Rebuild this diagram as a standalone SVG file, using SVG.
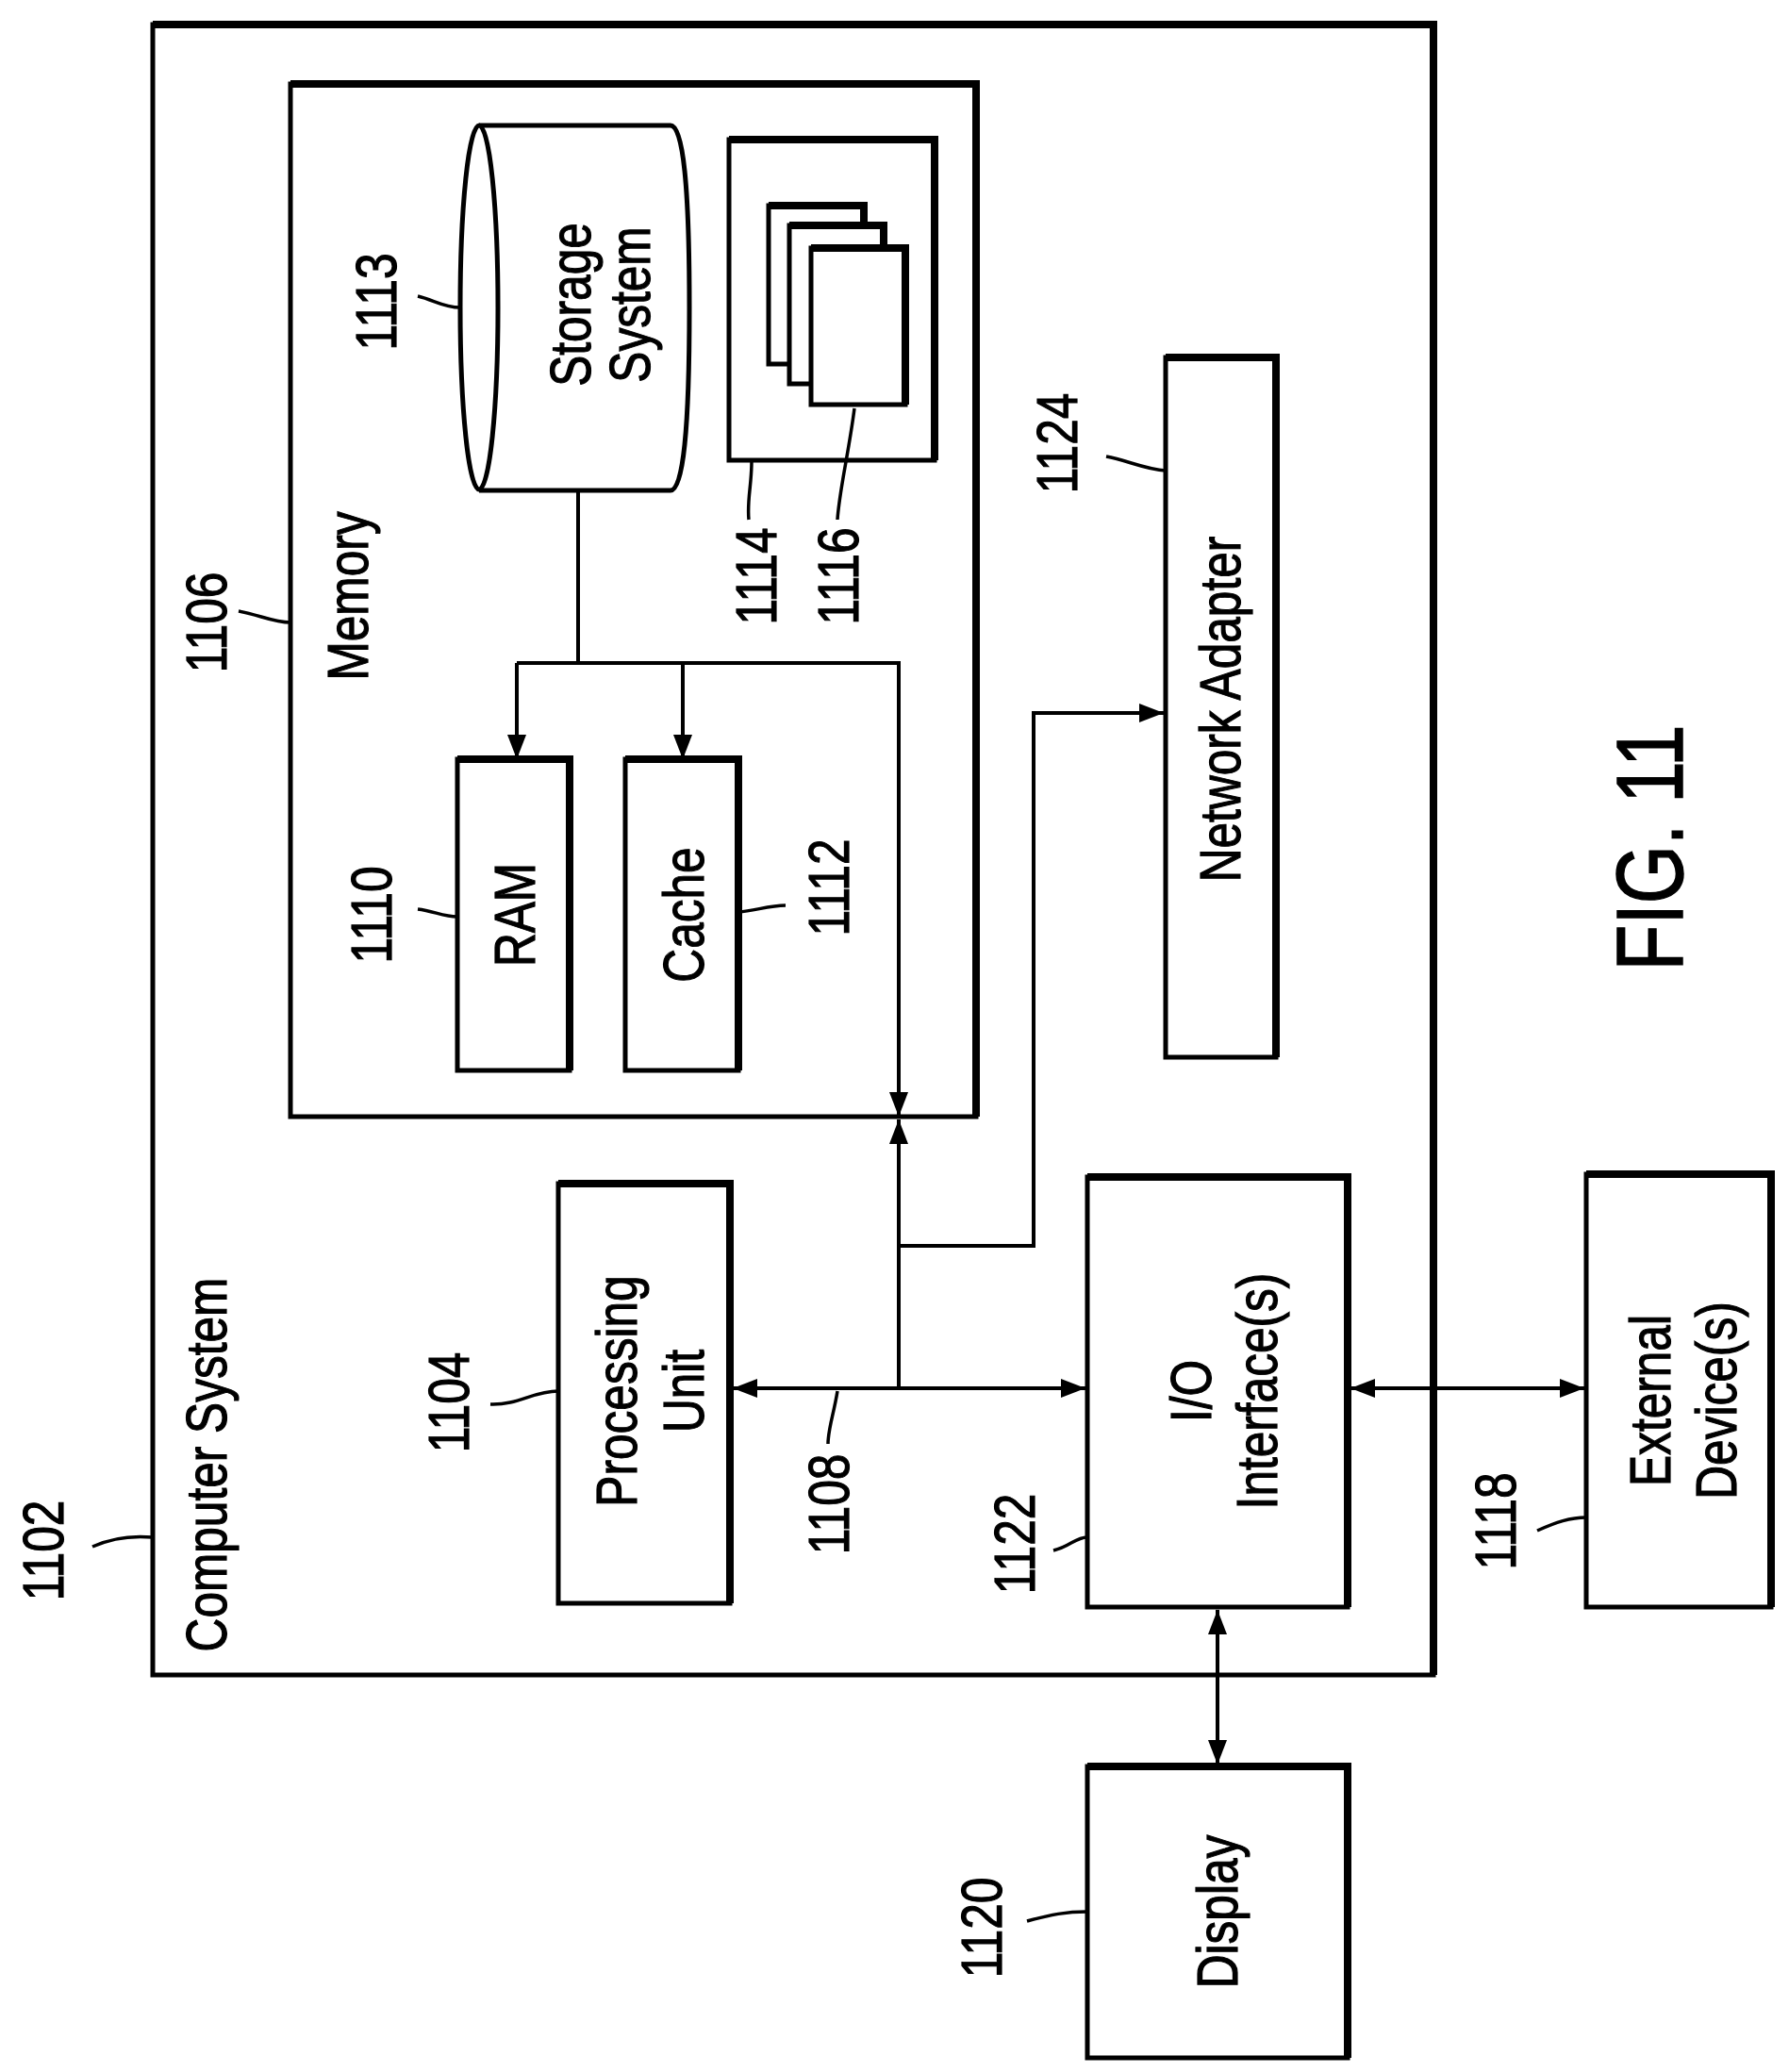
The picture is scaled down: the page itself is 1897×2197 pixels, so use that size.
<svg xmlns="http://www.w3.org/2000/svg" width="1897" height="2197" viewBox="0 0 1897 2197">
<style>
.b{fill:#fff;stroke:#000;stroke-width:5}
.t{fill:none;stroke:#000;stroke-width:8}
.l{fill:none;stroke:#000;stroke-width:4}
.c{fill:none;stroke:#000;stroke-width:3.5}
text{font-family:"Liberation Sans",sans-serif;font-size:62px;fill:#000;stroke:#000;stroke-width:1.2;text-anchor:middle;dominant-baseline:central}
.f{font-size:100px;stroke-width:1.5}
</style>
<defs>
<marker id="m" viewBox="0 0 26 26" refX="26" refY="13" markerWidth="26" markerHeight="26" markerUnits="userSpaceOnUse" orient="auto-start-reverse"><path d="M0,3 L26,13 L0,23 z"/></marker>
</defs>
<g id="computer-system">
<rect class="b" x="162" y="26" width="1358" height="1750"/>
<path class="t" d="M162,26 H1520 V1776"/>
<text transform="translate(218,1553) rotate(-90) scale(0.8,1)">Computer System</text>
<text transform="translate(45,1644) rotate(-90) scale(0.8,1)">1102</text>
<path class="c" d="M98,1640 C120,1630 140,1628 162,1630"/>
</g>
<g id="memory">
<rect class="b" x="308" y="89" width="727" height="1095"/>
<path class="t" d="M308,89 H1035 V1184"/>
<text transform="translate(368,632) rotate(-90) scale(0.8,1)">Memory</text>
<text transform="translate(218,660) rotate(-90) scale(0.8,1)">1106</text>
<path class="c" d="M253,648 C275,652 290,660 308,660"/>
</g>
<g id="storage">
<path class="b" d="M508,133 H711 Q731,133 731,326 Q731,520 711,520 H508"/>
<ellipse class="b" cx="508" cy="326" rx="20" ry="193"/>
<text transform="translate(604,323) rotate(-90) scale(0.8,1)">Storage</text>
<text transform="translate(667,323) rotate(-90) scale(0.8,1)">System</text>
<text transform="translate(398,320) rotate(-90) scale(0.8,1)">1113</text>
<path class="c" d="M443,314 C460,318 470,326 488,326"/>
</g>
<g id="programs">
<rect class="b" x="773" y="148" width="218" height="340"/>
<path class="t" d="M773,148 H991 V488"/>
<rect class="b" x="815" y="218" width="101" height="168"/><path class="t" d="M815,218 H916 V386"/>
<rect class="b" x="837" y="239" width="100" height="168"/><path class="t" d="M837,239 H937 V407"/>
<rect class="b" x="860" y="263" width="100" height="166"/><path class="t" d="M860,263 H960 V429"/>
<text transform="translate(801,611) rotate(-90) scale(0.8,1)">1114</text>
<text transform="translate(888,611) rotate(-90) scale(0.8,1)">1116</text>
<path class="c" d="M797,489 C797,515 792,530 794,551"/>
<path class="c" d="M906,433 C900,480 890,520 888,551"/>
</g>
<g id="ram">
<rect class="b" x="485" y="805" width="119" height="330"/>
<path class="t" d="M485,805 H604 V1135"/>
<text transform="translate(545,970) rotate(-90) scale(0.8,1)">RAM</text>
<text transform="translate(393,970) rotate(-90) scale(0.8,1)">1110</text>
<path class="c" d="M443,964 C460,966 470,972 485,972"/>
</g>
<g id="cache">
<rect class="b" x="663" y="805" width="120" height="330"/>
<path class="t" d="M663,805 H783 V1135"/>
<text transform="translate(724,970) rotate(-90) scale(0.8,1)">Cache</text>
<text transform="translate(878,941) rotate(-90) scale(0.8,1)">1112</text>
<path class="c" d="M783,967 C800,966 815,960 833,960"/>
</g>
<g id="network-adapter">
<rect class="b" x="1236" y="379" width="117" height="742"/>
<path class="t" d="M1236,379 H1353 V1121"/>
<text transform="translate(1293,752) rotate(-90) scale(0.8,1)">Network Adapter</text>
<text transform="translate(1120,470) rotate(-90) scale(0.8,1)">1124</text>
<path class="c" d="M1173,484 C1195,488 1215,498 1236,499"/>
</g>
<g id="processing-unit">
<rect class="b" x="592" y="1255" width="182" height="445"/>
<path class="t" d="M592,1255 H774 V1700"/>
<text transform="translate(653,1475) rotate(-90) scale(0.8,1)">Processing</text>
<text transform="translate(724,1475) rotate(-90) scale(0.8,1)">Unit</text>
<text transform="translate(475,1487) rotate(-90) scale(0.8,1)">1104</text>
<path class="c" d="M520,1489 C550,1490 565,1475 592,1475"/>
</g>
<g id="io">
<rect class="b" x="1153" y="1248" width="276" height="456"/>
<path class="t" d="M1153,1248 H1429 V1704"/>
<text transform="translate(1262,1475) rotate(-90) scale(0.8,1)">I/O</text>
<text transform="translate(1332,1475) rotate(-90) scale(0.8,1)">Interface(s)</text>
<text transform="translate(1075,1637) rotate(-90) scale(0.8,1)">1122</text>
<path class="c" d="M1117,1644 C1135,1640 1140,1630 1153,1630"/>
</g>
<g id="external">
<rect class="b" x="1682" y="1245" width="196" height="459"/>
<path class="t" d="M1682,1245 H1878 V1704"/>
<text transform="translate(1749,1485) rotate(-90) scale(0.8,1)">External</text>
<text transform="translate(1819,1485) rotate(-90) scale(0.8,1)">Device(s)</text>
<text transform="translate(1585,1613) rotate(-90) scale(0.8,1)">1118</text>
<path class="c" d="M1630,1623 C1650,1614 1665,1609 1682,1609"/>
</g>
<g id="display">
<rect class="b" x="1153" y="1873" width="276" height="309"/>
<path class="t" d="M1153,1873 H1429 V2182"/>
<text transform="translate(1290,2027) rotate(-90) scale(0.8,1)">Display</text>
<text transform="translate(1040,2044) rotate(-90) scale(0.8,1)">1120</text>
<path class="c" d="M1089,2037 C1115,2030 1130,2027 1153,2027"/>
</g>
<g id="fig">
<text class="f" transform="translate(1749,899) rotate(-90) scale(0.8,1)">FIG. 11</text>
</g>
<g id="bus-label">
<text transform="translate(878,1595) rotate(-90) scale(0.8,1)">1108</text>
<path class="c" d="M888,1475 C884,1500 878,1515 878,1531"/>
</g>
<g id="connectors">
<path class="l" d="M613,520 V703"/>
<path class="l" d="M548,703 H953 V1184" marker-end="url(#m)"/>
<path class="l" d="M548,703 V805" marker-end="url(#m)"/>
<path class="l" d="M724,703 V805" marker-end="url(#m)"/>
<path class="l" d="M953,1472 V1187" marker-end="url(#m)"/>
<path class="l" d="M953,1321 H1096 V756 H1234" marker-end="url(#m)"/>
<path class="l" d="M777,1472 H1151" marker-start="url(#m)" marker-end="url(#m)"/>
<path class="l" d="M1432,1472 H1680" marker-start="url(#m)" marker-end="url(#m)"/>
<path class="l" d="M1291,1707 V1871" marker-start="url(#m)" marker-end="url(#m)"/>
</g>
</svg>
